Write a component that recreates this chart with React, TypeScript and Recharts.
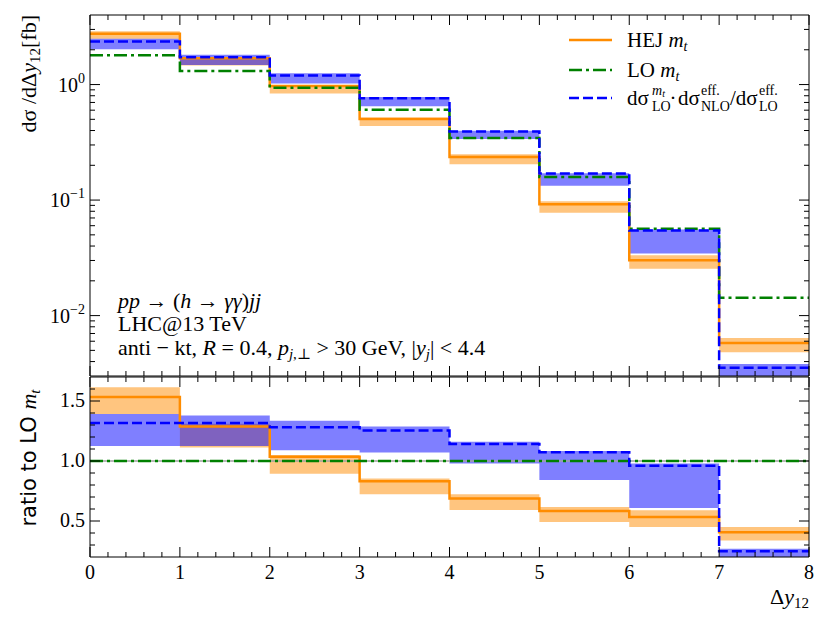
import React from "react";
import {
  ComposedChart,
  Line,
  Area,
  XAxis,
  YAxis,
  ReferenceLine,
  Legend,
} from "recharts";

// bin edges in Δy12
const binEdges = [0, 1, 2, 3, 4, 5, 6, 7, 8];

// upper panel: dσ/dΔy12 [fb], one value per bin
const loMt = [1.79, 1.31, 0.936, 0.606, 0.344, 0.158, 0.0566, 0.01425];
const hejMt = [2.75, 1.69, 0.97, 0.504, 0.236, 0.0921, 0.0302, 0.0058];
const hejLow = [2.49, 1.46, 0.837, 0.438, 0.204, 0.0776, 0.0254, 0.00482];
const hejHigh = [2.89, 1.72, 0.983, 0.518, 0.249, 0.0975, 0.0333, 0.0064];
const nloScaled = [2.36, 1.72, 1.2, 0.76, 0.393, 0.1695, 0.0544, 0.00353];
const nloLow = [2.02, 1.475, 1.02, 0.648, 0.337, 0.133, 0.0345, 0.001];
const nloHigh = [2.49, 1.81, 1.25, 0.781, 0.399, 0.171, 0.0555, 0.00382];

// lower panel: ratio to LO m_t
const loRatio = [1, 1, 1, 1, 1, 1, 1, 1];
const hejRatio = [1.534, 1.288, 1.036, 0.832, 0.687, 0.583, 0.533, 0.407];
const hejRatioLow = [1.391, 1.112, 0.894, 0.723, 0.592, 0.491, 0.449, 0.338];
const hejRatioHigh = [1.614, 1.31, 1.05, 0.855, 0.723, 0.617, 0.589, 0.449];
const nloRatio = [1.316, 1.316, 1.282, 1.254, 1.142, 1.073, 0.961, 0.248];
const nloRatioLow = [1.126, 1.126, 1.09, 1.07, 0.98, 0.841, 0.609, 0.1];
const nloRatioHigh = [1.391, 1.38, 1.335, 1.288, 1.16, 1.084, 0.98, 0.268];

// ticks
const xMajorTicks = [0, 1, 2, 3, 4, 5, 6, 7, 8];
const xTicks = [
  ...xMajorTicks,
  ...binEdges.slice(0, -1).flatMap((e) => [0.2, 0.4, 0.6, 0.8].map((f) => +(e + f).toFixed(1))),
];
const topDomain = [0.003, 4];
const topMajorTicks = [0.01, 0.1, 1];
const topMajorLabels = ["\u22122", "\u22121", "0"];
const topTicks = [0.001, 0.01, 0.1, 1]
  .flatMap((d) => [1, 2, 3, 4, 5, 6, 7, 8, 9].map((m) => +(d * m).toPrecision(3)))
  .filter((v) => v > topDomain[0] && v < topDomain[1]);
const ratioDomain = [0.2, 1.7];
const ratioMajorTicks = [0.5, 1.0, 1.5];
const ratioMajorLabels = ["0.5", "1.0", "1.5"];
const ratioTicks = [0.3, 0.4, 0.5, 0.6, 0.7, 0.8, 0.9, 1.0, 1.1, 1.2, 1.3, 1.4, 1.5, 1.6];

const ORANGE = "#ff8c00";
const GREEN = "#008000";
const BLUE = "#0000ff";
const SERIF = '"Liberation Serif", "DejaVu Serif", serif';
const SANS = '"DejaVu Sans", sans-serif';
const DASHED = "10 4";
const DASHDOT = "13 4 3 4";

const binIdx = (i: number) => Math.min(i, loMt.length - 1);

const topData = binEdges.map((x, i) => {
  const j = binIdx(i);
  return {
    x,
    lo: loMt[j],
    hej: hejMt[j],
    hejBand: [hejLow[j], hejHigh[j]],
    nlo: nloScaled[j],
    nloBand: [nloLow[j], nloHigh[j]],
  };
});

const ratioData = binEdges.map((x, i) => {
  const j = binIdx(i);
  return {
    x,
    lo: loRatio[j],
    hej: hejRatio[j],
    hejBand: [hejRatioLow[j], hejRatioHigh[j]],
    nlo: nloRatio[j],
    nloBand: [nloRatioLow[j], nloRatioHigh[j]],
  };
});

type Side = "left" | "right" | "top" | "bottom";

const makeTick =
  (side: Side, majors: number[], label?: (v: number, x: number, y: number) => React.ReactNode) =>
  (props: any) => {
    const { x, y, payload } = props;
    const v = payload.value;
    const isMajor = majors.some((m) => Math.abs(m - v) < 1e-9);
    const len = isMajor ? 10 : 5;
    let x2 = x;
    let y2 = y;
    if (side === "left") x2 = x + len;
    if (side === "right") x2 = x - len;
    if (side === "top") y2 = y + len;
    if (side === "bottom") y2 = y - len;
    return (
      <g>
        <line x1={x} y1={y} x2={x2} y2={y2} stroke="#000" strokeWidth={1} />
        {isMajor && label ? label(v, x, y) : null}
      </g>
    );
  };

const logLabel = (v: number, x: number, y: number) => {
  const k = topMajorTicks.findIndex((m) => Math.abs(m - v) < 1e-9);
  return (
    <text x={x - 5} y={y + 7} textAnchor="end" fontSize={20} fontFamily={SERIF} fill="#000">
      10
      <tspan dy={-9} fontSize={14}>
        {topMajorLabels[k]}
      </tspan>
    </text>
  );
};

const ratioLabel = (v: number, x: number, y: number) => {
  const k = ratioMajorTicks.findIndex((m) => Math.abs(m - v) < 1e-9);
  return (
    <text x={x - 5} y={y + 6} textAnchor="end" fontSize={20} fontFamily={SERIF} fill="#000">
      {ratioMajorLabels[k]}
    </text>
  );
};

const xLabel = (v: number, x: number, y: number) => (
  <text x={x} y={y + 22} textAnchor="middle" fontSize={20} fontFamily={SERIF} fill="#000">
    {v}
  </text>
);

const frame = { stroke: "#000", strokeWidth: 1 };

const renderLegend = () => (
  <svg width={260} height={100} style={{ overflow: "visible" }}>
    <g fontFamily={SERIF} fontSize={21} fill="#000">
      <line x1={9} x2={52} y1={20} y2={20} stroke={ORANGE} strokeWidth={2.5} />
      <text x={67} y={27}>
        HEJ{" "}
        <tspan fontStyle="italic">m</tspan>
        <tspan dy={4} fontSize={14} fontStyle="italic">
          t
        </tspan>
      </text>
      <line x1={9} x2={52} y1={50} y2={50} stroke={GREEN} strokeWidth={2.5} strokeDasharray={DASHDOT} />
      <text x={67} y={57}>
        LO <tspan fontStyle="italic">m</tspan>
        <tspan dy={4} fontSize={14} fontStyle="italic">
          t
        </tspan>
      </text>
      <line x1={9} x2={52} y1={78} y2={78} stroke={BLUE} strokeWidth={2.5} strokeDasharray={DASHED} />
      <text x={67} y={85}>dσ</text>
      <text x={92} y={75} fontSize={14}>
        <tspan fontStyle="italic">m</tspan>
        <tspan dy={2} fontSize={10} fontStyle="italic">
          t
        </tspan>
      </text>
      <text x={92} y={91} fontSize={14}>LO</text>
      <text x={113} y={85} textAnchor="middle">·</text>
      <text x={118} y={85}>dσ</text>
      <text x={141} y={75} fontSize={14}>eff.</text>
      <text x={141} y={91} fontSize={14}>NLO</text>
      <text x={170} y={85}>/dσ</text>
      <text x={199} y={75} fontSize={14}>eff.</text>
      <text x={199} y={91} fontSize={14}>LO</text>
    </g>
  </svg>
);

const App: React.FC = () => {
  return (
    <div
      style={{
        position: "absolute",
        left: 0,
        top: 0,
        width: 830,
        height: 623,
        background: "#fff",
      }}
    >
      <div style={{ position: "absolute", left: 0, top: 0 }}>
        <ComposedChart width={830} height={381} data={topData} margin={{ top: 14, right: 20, bottom: 4, left: 0 }}>
          <XAxis
            xAxisId="b"
            dataKey="x"
            type="number"
            domain={[0, 8]}
            ticks={xTicks}
            interval={0}
            height={1}
            tickSize={0}
            tickMargin={0}
            tickLine={false}
            axisLine={frame}
            tick={makeTick("bottom", xMajorTicks)}
            allowDataOverflow
          />
          <XAxis
            xAxisId="t"
            orientation="top"
            dataKey="x"
            type="number"
            domain={[0, 8]}
            ticks={xTicks}
            interval={0}
            height={1}
            tickSize={0}
            tickMargin={0}
            tickLine={false}
            axisLine={frame}
            tick={makeTick("top", xMajorTicks)}
            allowDataOverflow
          />
          <YAxis
            yAxisId="l"
            type="number"
            scale="log"
            domain={topDomain}
            ticks={topTicks}
            interval={0}
            width={90}
            tickSize={0}
            tickMargin={0}
            tickLine={false}
            axisLine={frame}
            tick={makeTick("left", topMajorTicks, logLabel)}
            allowDataOverflow
          />
          <YAxis
            yAxisId="r"
            orientation="right"
            type="number"
            scale="log"
            domain={topDomain}
            ticks={topTicks}
            interval={0}
            width={1}
            tickSize={0}
            tickMargin={0}
            tickLine={false}
            axisLine={frame}
            tick={makeTick("right", topMajorTicks)}
            allowDataOverflow
          />
          <Area
            xAxisId="b"
            yAxisId="l"
            type="stepAfter"
            dataKey="hejBand"
            stroke="none"
            fill={ORANGE}
            fillOpacity={0.5}
            isAnimationActive={false}
          />
          <Area
            xAxisId="b"
            yAxisId="l"
            type="stepAfter"
            dataKey="nloBand"
            stroke="none"
            fill={BLUE}
            fillOpacity={0.5}
            isAnimationActive={false}
          />
          <Line
            xAxisId="b"
            yAxisId="l"
            type="stepAfter"
            dataKey="hej"
            stroke={ORANGE}
            strokeWidth={2.5}
            dot={false}
            activeDot={false}
            isAnimationActive={false}
          />
          <Line
            xAxisId="b"
            yAxisId="l"
            type="stepAfter"
            dataKey="lo"
            stroke={GREEN}
            strokeWidth={2.5}
            strokeDasharray={DASHDOT}
            dot={false}
            activeDot={false}
            isAnimationActive={false}
          />
          <Line
            xAxisId="b"
            yAxisId="l"
            type="stepAfter"
            dataKey="nlo"
            stroke={BLUE}
            strokeWidth={2.5}
            strokeDasharray={DASHED}
            dot={false}
            activeDot={false}
            isAnimationActive={false}
          />
          {/* hidden series so the mirrored axes have something to scale */}
          <Line
            xAxisId="t"
            yAxisId="r"
            dataKey="lo"
            stroke="none"
            dot={false}
            activeDot={false}
            isAnimationActive={false}
          />
          <Legend
            layout="vertical"
            align="center"
            verticalAlign="middle"
            content={renderLegend}
            wrapperStyle={{ position: "absolute", left: 560, top: 20, width: 260, height: 100 }}
          />
        </ComposedChart>
      </div>

      <div style={{ position: "absolute", left: 0, top: 376 }}>
        <ComposedChart width={830} height={247} data={ratioData} margin={{ top: 0, right: 20, bottom: 16, left: 0 }}>
          <XAxis
            xAxisId="b"
            dataKey="x"
            type="number"
            domain={[0, 8]}
            ticks={xTicks}
            interval={0}
            height={50}
            tickSize={0}
            tickMargin={0}
            tickLine={false}
            axisLine={frame}
            tick={makeTick("bottom", xMajorTicks, xLabel)}
            allowDataOverflow
          />
          <XAxis
            xAxisId="t"
            orientation="top"
            dataKey="x"
            type="number"
            domain={[0, 8]}
            ticks={xTicks}
            interval={0}
            height={1}
            tickSize={0}
            tickMargin={0}
            tickLine={false}
            axisLine={frame}
            tick={makeTick("top", xMajorTicks)}
            allowDataOverflow
          />
          <YAxis
            yAxisId="l"
            type="number"
            domain={ratioDomain}
            ticks={ratioTicks}
            interval={0}
            width={90}
            tickSize={0}
            tickMargin={0}
            tickLine={false}
            axisLine={frame}
            tick={makeTick("left", ratioMajorTicks, ratioLabel)}
            allowDataOverflow
          />
          <YAxis
            yAxisId="r"
            orientation="right"
            type="number"
            domain={ratioDomain}
            ticks={ratioTicks}
            interval={0}
            width={1}
            tickSize={0}
            tickMargin={0}
            tickLine={false}
            axisLine={frame}
            tick={makeTick("right", ratioMajorTicks)}
            allowDataOverflow
          />
          <Area
            xAxisId="b"
            yAxisId="l"
            type="stepAfter"
            dataKey="hejBand"
            stroke="none"
            fill={ORANGE}
            fillOpacity={0.5}
            isAnimationActive={false}
          />
          <Area
            xAxisId="b"
            yAxisId="l"
            type="stepAfter"
            dataKey="nloBand"
            stroke="none"
            fill={BLUE}
            fillOpacity={0.5}
            isAnimationActive={false}
          />
          <ReferenceLine xAxisId="b" yAxisId="l" y={1} stroke="#a0a0a0" strokeWidth={1.5} />
          <Line
            xAxisId="b"
            yAxisId="l"
            type="stepAfter"
            dataKey="hej"
            stroke={ORANGE}
            strokeWidth={2.5}
            dot={false}
            activeDot={false}
            isAnimationActive={false}
          />
          <Line
            xAxisId="b"
            yAxisId="l"
            type="stepAfter"
            dataKey="lo"
            stroke={GREEN}
            strokeWidth={2.5}
            strokeDasharray={DASHDOT}
            dot={false}
            activeDot={false}
            isAnimationActive={false}
          />
          <Line
            xAxisId="b"
            yAxisId="l"
            type="stepAfter"
            dataKey="nlo"
            stroke={BLUE}
            strokeWidth={2.5}
            strokeDasharray={DASHED}
            dot={false}
            activeDot={false}
            isAnimationActive={false}
          />
          <Line
            xAxisId="t"
            yAxisId="r"
            dataKey="lo"
            stroke="none"
            dot={false}
            activeDot={false}
            isAnimationActive={false}
          />
        </ComposedChart>
      </div>

      {/* axis titles and process annotation */}
      <svg
        width={830}
        height={623}
        style={{ position: "absolute", left: 0, top: 0, pointerEvents: "none" }}
        fontFamily={SERIF}
        fill="#000"
      >
        <text transform="translate(36,15) rotate(-90)" textAnchor="end" fontSize={22}>
          dσ /dΔ<tspan fontStyle="italic">y</tspan>
          <tspan dy={4} fontSize={15}>
            12
          </tspan>
          <tspan dy={-4}>[fb]</tspan>
        </text>
        <text transform="translate(36,458) rotate(-90)" textAnchor="middle" fontSize={21} fontFamily={SANS}>
          ratio to LO{" "}
          <tspan fontFamily={SERIF} fontStyle="italic" fontSize={22}>
            m
          </tspan>
          <tspan fontFamily={SERIF} fontStyle="italic" fontSize={15} dy={4}>
            t
          </tspan>
        </text>
        <text x={809} y={604} textAnchor="end" fontSize={22}>
          Δ<tspan fontStyle="italic">y</tspan>
          <tspan dy={4} fontSize={15}>
            12
          </tspan>
        </text>

        <g fontSize={22}>
          <text x={118} y={308}>
            <tspan fontStyle="italic">pp</tspan> → (<tspan fontStyle="italic">h</tspan> →{" "}
            <tspan fontStyle="italic">γγ</tspan>)<tspan fontStyle="italic">jj</tspan>
          </text>
          <text x={118} y={331}>LHC@13 TeV</text>
          <text x={118} y={355}>
            anti − kt, <tspan fontStyle="italic">R</tspan> = 0.4,{" "}
            <tspan fontStyle="italic">p</tspan>
            <tspan dy={4} fontSize={15}>
              <tspan fontStyle="italic">j</tspan>,⊥
            </tspan>
            <tspan dy={-4}> &gt; 30 GeV, |</tspan>
            <tspan fontStyle="italic">y</tspan>
            <tspan dy={4} fontSize={15} fontStyle="italic">
              j
            </tspan>
            <tspan dy={-4}>| &lt; 4.4</tspan>
          </text>
        </g>
      </svg>
    </div>
  );
};

export default App;
